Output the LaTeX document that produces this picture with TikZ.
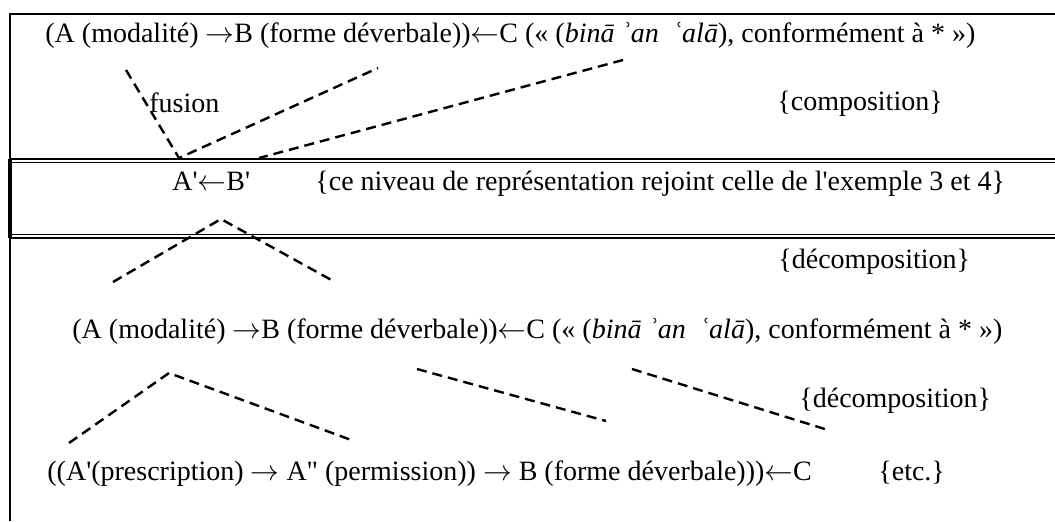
\documentclass[tikz,border=0pt]{standalone}
\usepackage{fontspec}
\setmainfont{Liberation Serif}
\usepackage{tikz}
\usetikzlibrary{positioning,calc}
\newcommand{\apos}{\textquotesingle}
\newcommand{\rar}{\ensuremath{\rightarrow}}
\newcommand{\lar}{\ensuremath{\leftarrow}}

\begin{document}
\begin{tikzpicture}[
    x=0.5pt, y=-0.5pt,
    txt/.style={inner sep=0pt, anchor=base west, font=\fontsize{14}{16}\selectfont},
    branch/.style={line width=1.2pt, dash pattern=on 5pt off 3pt},
    frame/.style={line width=1pt},
    rule/.style={line width=0.8pt}
]
\useasboundingbox (0,0) rectangle (1055,521);

% Frame
\draw[frame] (10,521) -- (10,14) -- (1055,14);
\draw[rule] (10,159) -- (1055,159);
\draw[rule] (10,162.5) -- (1055,162.5);
\draw[rule] (10,234.5) -- (1055,234.5);
\draw[rule] (10,238) -- (1055,238);
\draw[line width=2pt] (10,159) -- (10,238);

% Levels
\node[txt] (top) at (45,42) {(A (modalité) \rar B (forme déverbale))\lar C (« (\textit{binā ʾan \ ʿalā}), conformément à * »)};
\node[txt] (fusion) at (149,112) {fusion};
\node[txt] (comp) at (777,110) {\{composition\}};
\node[txt] (merged) at (172,190) {A\apos\lar B\apos};
\node[txt] (note) at (315,190) {\{ce niveau de représentation rejoint celle de l\apos exemple 3 et 4\}};
\node[txt] (decomp1) at (778,268) {\{décomposition\}};
\node[txt] (mid) at (72,338) {(A (modalité) \rar B (forme déverbale))\lar C (« (\textit{binā ʾan \ ʿalā}), conformément à * »)};
\node[txt] (decomp2) at (799,407) {\{décomposition\}};
\node[txt] (low) at (47,480) {((A\apos(prescription) \rar\ A\textquotedbl\ (permission)) \rar\ B (forme déverbale)))\lar C};
\node[txt] (etc) at (878,480) {\{etc.\}};

% Branch ends
\coordinate (fusA) at (126,70);
\coordinate (fusJ) at (179,158);
\coordinate (fusB) at (378,68);
\coordinate (fusC) at (623,60);
\coordinate (fusD) at (259,158);
\coordinate (decA) at (113,282);
\coordinate (decP) at (221,219);
\coordinate (decB) at (335,282);
\coordinate (lowA) at (69,443);
\coordinate (lowP) at (169,373);
\coordinate (lowB) at (354,441);
\coordinate (midA) at (417,369);
\coordinate (midB) at (606,421);
\coordinate (rgtA) at (632,369);
\coordinate (rgtB) at (828,430);

% Branches
\draw[branch] (fusA) -- (fusJ) -- (fusB);
\draw[branch] (fusC) -- (fusD);
\draw[branch] (decA) -- (decP) -- (decB);
\draw[branch] (lowA) -- (lowP) -- (lowB);
\draw[branch] (midA) -- (midB);
\draw[branch] (rgtA) -- (rgtB);

\end{tikzpicture}
\end{document}
